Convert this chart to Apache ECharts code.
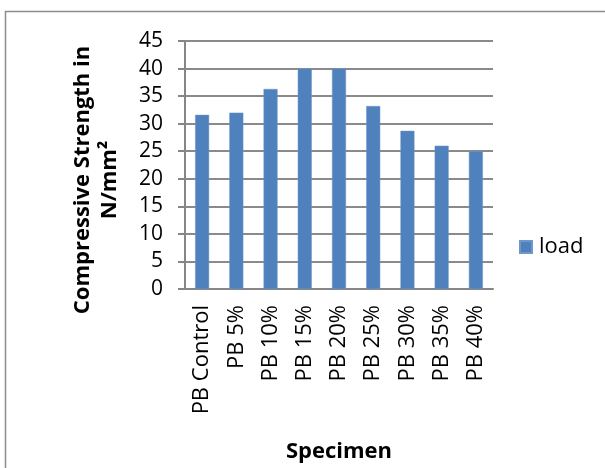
<!DOCTYPE html>
<html>
<head>
<meta charset="utf-8">
<script src="https://cdn.jsdelivr.net/npm/echarts@6/dist/echarts.min.js"></script>
<style>
html,body{margin:0;padding:0;background:#fff;}
#chart{width:605px;height:468px;}
</style>
</head>
<body>
<div id="chart"></div>
<script>
const categories = ['PB Control','PB 5%','PB 10%','PB 15%','PB 20%','PB 25%','PB 30%','PB 35%','PB 40%'];
const loadValues = [31.6, 32.0, 36.3, 40.0, 40.0, 33.2, 28.7, 26.0, 25.0];
const seriesName = 'load';
const yTitleLines = ['Compressive Strength in', 'N/mm\u00B2'];
const xTitle = 'Specimen';

const FONT = 'Open Sans';
const chart = echarts.init(document.getElementById('chart'), null, {renderer:'canvas'});
chart.setOption({
  animation:false,
  backgroundColor:'#ffffff',
  grid:{left:185, right:112, top:41, bottom:170, containLabel:false},
  legend:{
    data:[seriesName], left:514, top:231, orient:'vertical',
    itemWidth:12, itemHeight:12, itemGap:6,
    icon:'rect',
    textStyle:{fontFamily:FONT, fontSize:22, color:'#000', padding:[0,0,0,2]}
  },
  xAxis:{
    type:'category', data:categories,
    axisLine:{lineStyle:{color:'#868686', width:2}},
    axisTick:{show:false},
    axisLabel:{rotate:90, margin:16, fontFamily:FONT, fontSize:22, color:'#000', interval:0},
    name:xTitle, nameLocation:'middle', nameGap:152,
    nameTextStyle:{fontFamily:FONT, fontSize:22, fontWeight:'bold', color:'#000'}
  },
  yAxis:{
    type:'value', min:0, max:45, interval:5,
    axisLine:{show:true, lineStyle:{color:'#868686', width:2}},
    axisTick:{show:true, length:7, lineStyle:{color:'#868686', width:2}},
    splitLine:{lineStyle:{color:'#8a8a8a', width:2}},
    axisLabel:{margin:22, fontFamily:FONT, fontSize:21, color:'#000'}
  },
  series:[{
    name:seriesName, type:'bar', data:loadValues, barWidth:14,
    itemStyle:{color:'#4f81bd', borderColor:'#6f97c9', borderWidth:0.5}
  }],
  graphic:[
    {type:'rect', shape:{x:5.5, y:11.5, width:800, height:800}, style:{fill:'none', stroke:'#8c8c8c', lineWidth:1.5}, z:-10},
    {type:'text', x:96, y:180, rotation:Math.PI/2,
     style:{text:yTitleLines.join('\n'), fontFamily:FONT, fontSize:22, fontWeight:'bold', fill:'#000',
            align:'center', verticalAlign:'middle', lineHeight:27}}
  ]
});
</script>
</body>
</html>
